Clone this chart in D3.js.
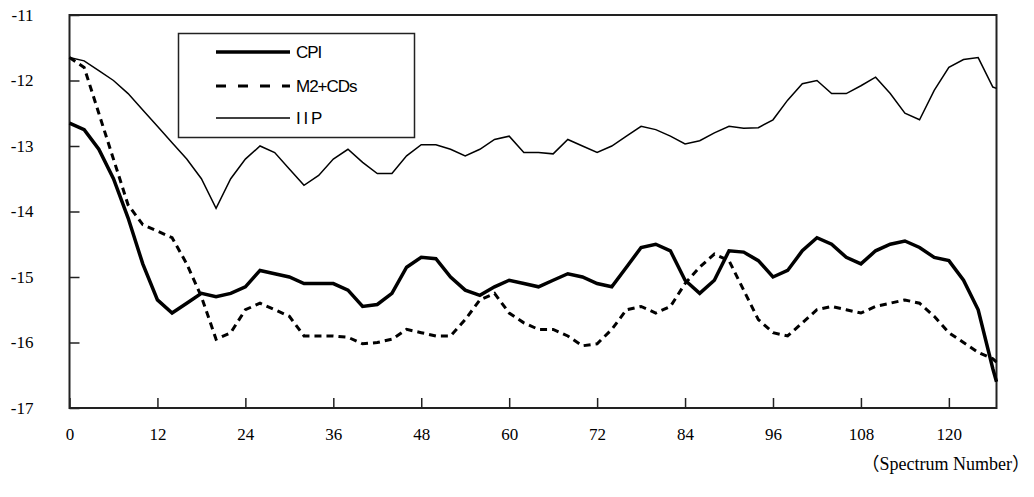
<!DOCTYPE html>
<html><head><meta charset="utf-8">
<script src="https://cdn.jsdelivr.net/npm/d3@7"></script>
<style>body{margin:0;background:#fff}</style>
</head><body><div class="plot"></div>
<script>
const xs = [];
for (let i = 0; i <= 126; i += 2) xs.push(i);
xs.push(126.5);

const cpi = [-12.65,-12.75,-13.05,-13.5,-14.1,-14.8,-15.35,-15.55,-15.4,-15.25,-15.3,-15.25,-15.15,-14.9,-14.95,-15.0,
  -15.1,-15.1,-15.1,-15.2,-15.45,-15.42,-15.25,-14.85,-14.7,-14.72,-15.0,-15.2,-15.28,-15.15,-15.05,-15.1,
  -15.15,-15.05,-14.95,-15.0,-15.1,-15.15,-14.85,-14.55,-14.5,-14.6,-15.05,-15.25,-15.05,-14.6,-14.62,-14.75,
  -15.0,-14.9,-14.6,-14.4,-14.5,-14.7,-14.8,-14.6,-14.5,-14.45,-14.55,-14.7,-14.75,-15.05,-15.5,-16.4,-16.6];
const m2 = [-11.65,-11.8,-12.5,-13.2,-13.9,-14.2,-14.3,-14.4,-14.8,-15.3,-15.95,-15.85,-15.5,-15.4,-15.5,-15.6,
  -15.9,-15.9,-15.9,-15.92,-16.02,-16.0,-15.95,-15.8,-15.85,-15.9,-15.9,-15.65,-15.35,-15.25,-15.55,-15.7,
  -15.8,-15.8,-15.9,-16.05,-16.02,-15.8,-15.5,-15.45,-15.55,-15.45,-15.1,-14.85,-14.65,-14.75,-15.2,-15.65,
  -15.85,-15.9,-15.7,-15.5,-15.45,-15.5,-15.55,-15.45,-15.4,-15.35,-15.4,-15.6,-15.85,-16.0,-16.15,-16.25,-16.3];
const iip = [-11.65,-11.7,-11.85,-12.0,-12.2,-12.45,-12.7,-12.95,-13.2,-13.5,-13.95,-13.5,-13.2,-13.0,-13.1,-13.35,
  -13.6,-13.45,-13.2,-13.05,-13.25,-13.42,-13.42,-13.15,-12.98,-12.98,-13.05,-13.15,-13.05,-12.9,-12.85,-13.1,
  -13.1,-13.12,-12.9,-13.0,-13.1,-13.0,-12.85,-12.7,-12.75,-12.85,-12.97,-12.92,-12.8,-12.7,-12.73,-12.72,
  -12.6,-12.3,-12.05,-12.0,-12.2,-12.2,-12.08,-11.95,-12.2,-12.5,-12.6,-12.15,-11.8,-11.68,-11.65,-12.1,-12.12];
const xTicks = [0,12,24,36,48,60,72,84,96,108,120];
const yTicks = [-11,-12,-13,-14,-15,-16,-17];

const W = 1034, H = 497, L = 69.5, R = 996.5, T = 15, B = 408;
const svg = d3.select(".plot").append("svg").attr("width", W).attr("height", H);
const x = d3.scaleLinear().domain([0, 126.5]).range([L, R]);
const y = d3.scaleLinear().domain([-17, -11]).range([B, T]);

svg.append("rect").attr("x", L).attr("y", T).attr("width", R - L).attr("height", B - T)
  .attr("fill", "none").attr("stroke", "#222").attr("stroke-width", 2);

const xa = svg.append("g").attr("transform", `translate(0,${B})`).attr("color", "#000")
  .call(d3.axisTop(x).tickValues(xTicks).tickSize(10).tickFormat(d => String(d)));
xa.select(".domain").remove();
xa.selectAll("line").attr("stroke", "#222").attr("stroke-width", 1.5);
xa.selectAll("text").attr("y", 26).attr("dy", "0.35em")
  .style("font-family", "Liberation Serif").style("font-size", "17px");

const ya = svg.append("g").attr("transform", `translate(${L},0)`).attr("color", "#000")
  .call(d3.axisRight(y).tickValues(yTicks).tickSize(10).tickFormat(d => String(d)));
ya.select(".domain").remove();
ya.selectAll("line").attr("stroke", "#222").attr("stroke-width", 1.5);
ya.selectAll("text").attr("x", -36).attr("text-anchor", "end")
  .style("font-family", "Liberation Serif").style("font-size", "17px");

const line = d3.line().x((d, i) => x(xs[i])).y(d => y(d));
svg.append("path").datum(iip).attr("d", line).attr("fill", "none").attr("stroke", "#000").attr("stroke-width", 1.5);
svg.append("path").datum(m2).attr("d", line).attr("fill", "none").attr("stroke", "#000").attr("stroke-width", 3).attr("stroke-dasharray", "7,5");
svg.append("path").datum(cpi).attr("d", line).attr("fill", "none").attr("stroke", "#000").attr("stroke-width", 3.5);

const lg = svg.append("g");
lg.append("rect").attr("x", 178.5).attr("y", 33.5).attr("width", 236).attr("height", 104)
  .attr("fill", "#fff").attr("stroke", "#222").attr("stroke-width", 1.5);
const items = [["CPI", 3.5, null, 52], ["M2+CDs", 3, "10,12", 86], ["I I P", 1.5, null, 118]];
items.forEach(([t, w, da, yy]) => {
  lg.append("line").attr("x1", 216).attr("x2", 290).attr("y1", yy).attr("y2", yy)
    .attr("stroke", "#000").attr("stroke-width", w).attr("stroke-dasharray", da);
  lg.append("text").attr("x", 296).attr("y", yy).attr("dy", "0.35em").text(t)
    .style("font-family", "Liberation Sans Narrow, Liberation Sans").style("font-size", "17px").style("letter-spacing", "-1px");
});

svg.append("text").attr("x", 1030).attr("y", 470).attr("text-anchor", "end")
  .style("font-family", "Liberation Serif, Noto Sans CJK JP").style("font-size", "18px").text("（Spectrum Number）");
</script></body></html>
